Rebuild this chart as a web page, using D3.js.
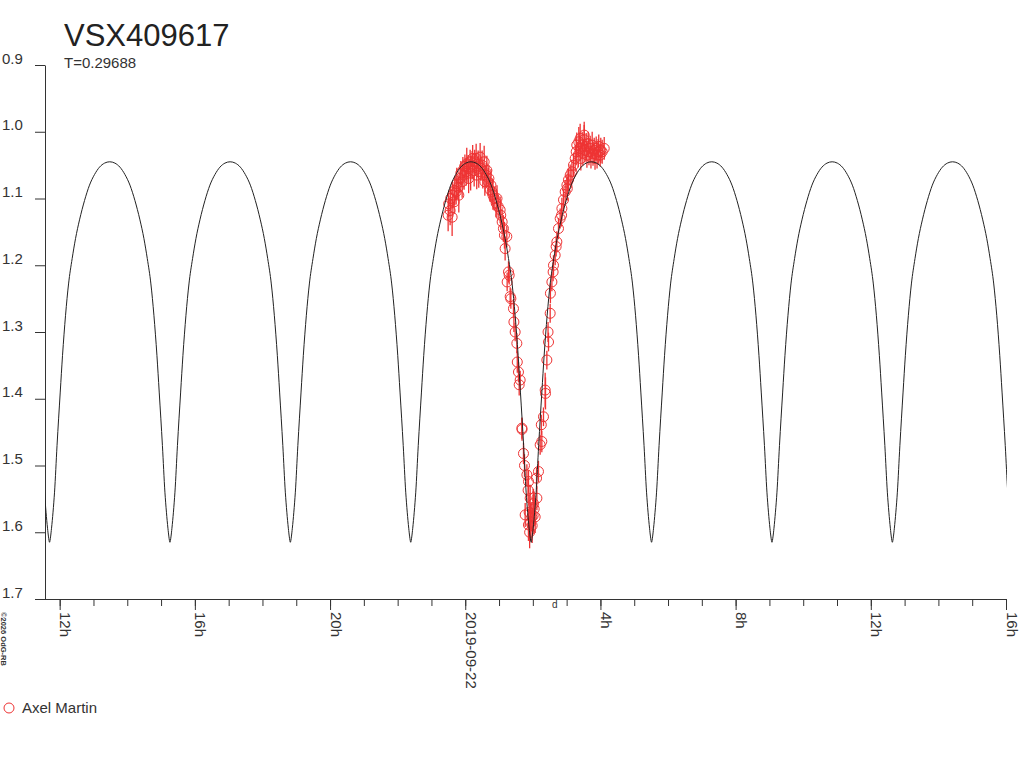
<!DOCTYPE html>
<html>
<head>
<meta charset="utf-8">
<script src="https://cdn.jsdelivr.net/npm/d3@7"></script>
<style>
  body { margin: 0; background: #fff; }
  svg { display: block; font-family: "Liberation Sans", Arial, sans-serif; }
</style>
</head>
<body>
<svg id="chart" width="1024" height="768"></svg>
<script>
// star and period
var starName = 'VSX409617';
var periodDays = 0.29688;
var observer = 'Axel Martin';

// time axis: hours relative to 2019-09-22 00:00 UTC
var baseDate = Date.UTC(2019, 8, 22, 0, 0);
var timeDomain = [-12.73, 16];
var magDomain = [0.9, 1.7];
var magTicks = [0.9, 1.0, 1.1, 1.2, 1.3, 1.4, 1.5, 1.6, 1.7];

// epoch of a minimum (hours from base)
var epochMin = 1.95;

// light curve template: [phase from minimum (fraction of period), mag], min -> max
var curveShape = [
  [0.0000, 1.615], [0.0042, 1.607], [0.0083, 1.594], [0.0145, 1.570],
  [0.0208, 1.540], [0.0312, 1.470], [0.0445, 1.390], [0.0540, 1.335],
  [0.0665, 1.275], [0.0790, 1.228], [0.0940, 1.190], [0.1080, 1.160],
  [0.1246, 1.132], [0.1454, 1.103], [0.1660, 1.080], [0.1870, 1.064],
  [0.2077, 1.053], [0.2285, 1.047], [0.2500, 1.045]
];

// observations: [hours, mag, error]
var obs = [
  [-0.506,1.125,0.024],[-0.49,1.108,0.020],[-0.447,1.118,0.022],[-0.43,1.100,0.018],
  [-0.388,1.128,0.028],[-0.37,1.095,0.020],[-0.329,1.105,0.018],[-0.31,1.088,0.022],
  [-0.269,1.090,0.019],[-0.25,1.078,0.024],[-0.21,1.083,0.018],[-0.19,1.095,0.026],
  [-0.151,1.070,0.021],[-0.13,1.062,0.018],[-0.092,1.075,0.024],[-0.07,1.058,0.020],
  [-0.033,1.065,0.022],[-0.01,1.052,0.018],[0.027,1.060,0.021],[0.045,1.048,0.024],
  [0.086,1.055,0.020],[0.10,1.070,0.022],[0.145,1.045,0.018],[0.16,1.062,0.026],
  [0.204,1.050,0.021],[0.22,1.040,0.020],[0.264,1.058,0.024],[0.28,1.045,0.018],
  [0.323,1.040,0.022],[0.34,1.065,0.021],[0.382,1.048,0.020],[0.40,1.060,0.024],
  [0.441,1.038,0.021],[0.46,1.055,0.018],[0.500,1.050,0.022],[0.52,1.065,0.020],
  [0.560,1.045,0.024],[0.58,1.075,0.021],[0.619,1.065,0.018],[0.64,1.058,0.022],
  [0.678,1.075,0.021],[0.70,1.070,0.020],[0.737,1.087,0.018],[0.76,1.080,0.024],
  [0.796,1.090,0.020],[0.82,1.095,0.022],[0.856,1.100,0.018],[0.915,1.107,0.021],
  [0.94,1.100,0.020],[0.974,1.112,0.018],[1.033,1.117,0.020],[1.05,1.125,0.022],
  [1.092,1.135,0.018],[1.13,1.145,0.020],[1.18,1.175,0.018],[1.16,1.155,0.020],
  [1.23,1.157,0.016],[1.28,1.210,0.016],[1.24,1.225,0.014],[1.30,1.215,0.014],
  [1.329,1.247,0.014],[1.35,1.250,0.015],[1.427,1.265,0.014],[1.44,1.285,0.015],
  [1.477,1.300,0.014],[1.527,1.317,0.015],[1.54,1.345,0.016],[1.575,1.360,0.015],
  [1.596,1.379,0.016],[1.625,1.372,0.014],[1.676,1.444,0.016],[1.68,1.446,0.017],
  [1.723,1.482,0.016],[1.753,1.500,0.017],[1.824,1.514,0.016],[1.871,1.524,0.017],
  [1.86,1.537,0.018],[1.921,1.549,0.020],[1.773,1.574,0.018],[1.971,1.577,0.022],
  [1.87,1.589,0.024],[1.89,1.570,0.026],[1.936,1.585,0.028],[1.98,1.590,0.026],
  [2.01,1.575,0.028],[2.04,1.565,0.026],[1.905,1.600,0.024],
  [2.069,1.577,0.024],[2.019,1.557,0.022],[2.12,1.549,0.018],[2.11,1.519,0.016],
  [2.167,1.509,0.016],[2.217,1.469,0.015],[2.266,1.464,0.016],[2.25,1.439,0.015],
  [2.315,1.427,0.014],[2.365,1.387,0.026],[2.375,1.392,0.024],[2.415,1.342,0.014],
  [2.464,1.315,0.014],[2.45,1.300,0.015],[2.513,1.272,0.014],[2.52,1.242,0.015],
  [2.564,1.225,0.014],[2.611,1.200,0.015],[2.60,1.210,0.014],[2.661,1.185,0.015],
  [2.711,1.165,0.016],[2.69,1.172,0.015],[2.759,1.145,0.016],[2.809,1.130,0.015],
  [2.86,1.115,0.016],[2.85,1.125,0.017],[2.907,1.102,0.016],[2.957,1.090,0.017],
  [3.008,1.080,0.016],[3.02,1.085,0.018],[3.055,1.072,0.017],[3.105,1.065,0.016],
  [3.156,1.060,0.018],[3.203,1.050,0.017],[3.253,1.040,0.020],
  [3.283,1.030,0.020],[3.30,1.020,0.019],[3.342,1.035,0.018],[3.36,1.015,0.022],
  [3.401,1.025,0.019],[3.40,1.010,0.022],[3.42,1.040,0.018],[3.460,1.020,0.020],
  [3.48,1.032,0.019],[3.520,1.012,0.022],[3.52,1.005,0.020],[3.54,1.028,0.018],
  [3.579,1.022,0.020],[3.60,1.035,0.019],[3.638,1.018,0.018],[3.66,1.030,0.020],
  [3.697,1.025,0.019],[3.72,1.038,0.017],[3.756,1.020,0.020],[3.78,1.033,0.018],
  [3.816,1.028,0.019],[3.84,1.040,0.017],[3.875,1.025,0.018],[3.90,1.035,0.020],
  [3.934,1.030,0.019],[3.95,1.022,0.018],[3.993,1.035,0.017],[4.01,1.028,0.019],
  [4.052,1.030,0.018],[4.112,1.025,0.017]
];

var red = '#ee3333',
  ink = '#333';

function toDate(h) { return new Date(baseDate + h * 3600e3); }

var svg = d3.select('#chart');

var x = d3.scaleUtc()
  .domain(timeDomain.map(toDate))
  .range([35, 1006]);

var y = d3.scaleLinear()
  .domain(magDomain)
  .range([65, 599]);

var yAxisX = 45;

// clip for the model curve and points
svg.append('clipPath').attr('id', 'plot')
  .append('rect')
  .attr('x', yAxisX).attr('y', 0)
  .attr('width', 1006 - yAxisX + 1).attr('height', 600);

// minor hourly ticks
svg.append('g')
  .attr('transform', 'translate(0,599)')
  .call(d3.axisBottom(x).ticks(d3.utcHour.every(1)).tickSize(7).tickSizeOuter(0).tickFormat(''))
  .call(function (g) {
    g.select('.domain').attr('stroke', ink);
    g.selectAll('.tick line').attr('stroke', ink);
  });

// major 4-hour ticks with rotated labels
var xMajor = svg.append('g')
  .attr('transform', 'translate(0,599)')
  .call(d3.axisBottom(x).ticks(d3.utcHour.every(4)).tickSize(11).tickSizeOuter(0)
    .tickFormat(function (d) {
      var hr = d.getUTCHours();
      return hr === 0 ? d3.utcFormat('%Y-%m-%d')(d) : hr + 'h';
    }));
xMajor.select('.domain').remove();
xMajor.selectAll('.tick line').attr('stroke', ink);
xMajor.selectAll('.tick text')
  .attr('fill', ink)
  .attr('font-size', 15)
  .attr('text-anchor', 'start')
  .attr('dy', null)
  .attr('y', 0)
  .attr('x', 0)
  .attr('transform', 'translate(0,13) rotate(90)');

// y axis
var yAxis = svg.append('g')
  .attr('transform', 'translate(' + yAxisX + ',0)')
  .call(d3.axisLeft(y).tickValues(magTicks).tickSize(10).tickSizeOuter(0).tickFormat(d3.format('.1f')));
yAxis.select('.domain').attr('stroke', ink);
yAxis.selectAll('.tick line').attr('stroke', ink);
yAxis.selectAll('.tick text')
  .attr('fill', ink)
  .attr('font-size', 15)
  .attr('text-anchor', 'start')
  .attr('x', 2 - yAxisX)
  .attr('dy', null)
  .attr('y', -2);

// observations: error bars and circles
var pts = svg.append('g').attr('clip-path', 'url(#plot)');

pts.selectAll('line.err')
  .data(obs)
  .enter().append('line')
  .attr('class', 'err')
  .attr('x1', function (d) { return x(toDate(d[0])); })
  .attr('x2', function (d) { return x(toDate(d[0])); })
  .attr('y1', function (d) { return y(d[1] - d[2]); })
  .attr('y2', function (d) { return y(d[1] + d[2]); })
  .attr('stroke', red)
  .attr('stroke-width', 1.3);

pts.selectAll('circle')
  .data(obs)
  .enter().append('circle')
  .attr('cx', function (d) { return x(toDate(d[0])); })
  .attr('cy', function (d) { return y(d[1]); })
  .attr('r', 5)
  .attr('fill', 'none')
  .attr('stroke', red)
  .attr('stroke-width', 1);

// model curve: template repeated each half period (equal minima)
var periodHours = periodDays * 24;
var model = [];
for (var k = -5; k <= 4; k++) {
  var tMin = epochMin + k * periodHours / 2;
  curveShape.forEach(function (p) {
    model.push([tMin + p[0] * periodHours, p[1]]);
  });
  curveShape.slice().reverse().forEach(function (p, i) {
    if (i === 0) return;
    model.push([tMin + periodHours / 2 - p[0] * periodHours, p[1]]);
  });
}

var line = d3.line()
  .x(function (d) { return x(toDate(d[0])); })
  .y(function (d) { return y(d[1]); })
  .curve(d3.curveMonotoneX);

svg.append('path')
  .datum(model)
  .attr('clip-path', 'url(#plot)')
  .attr('d', line)
  .attr('fill', 'none')
  .attr('stroke', '#222')
  .attr('stroke-width', 1);

// titles
svg.append('text')
  .attr('x', 64).attr('y', 46)
  .attr('font-size', 31)
  .attr('fill', '#222')
  .text(starName);

svg.append('text')
  .attr('x', 64).attr('y', 68)
  .attr('font-size', 15)
  .attr('fill', ink)
  .text('T=' + periodDays);

// small marker glyph under the axis
svg.append('text')
  .attr('x', 552).attr('y', 608)
  .attr('font-size', 10)
  .attr('fill', ink)
  .text('d');

// copyright, rotated
svg.append('text')
  .attr('transform', 'translate(1,612) rotate(90)')
  .attr('font-size', 7.5)
  .attr('font-weight', 'bold')
  .attr('fill', ink)
  .text('\u00a92026 OdG-RB');

// legend
svg.append('circle')
  .attr('cx', 9).attr('cy', 708)
  .attr('r', 5)
  .attr('fill', 'none')
  .attr('stroke', red);

svg.append('text')
  .attr('x', 22).attr('y', 713)
  .attr('font-size', 15)
  .attr('fill', ink)
  .text(observer);
</script>
</body>
</html>
